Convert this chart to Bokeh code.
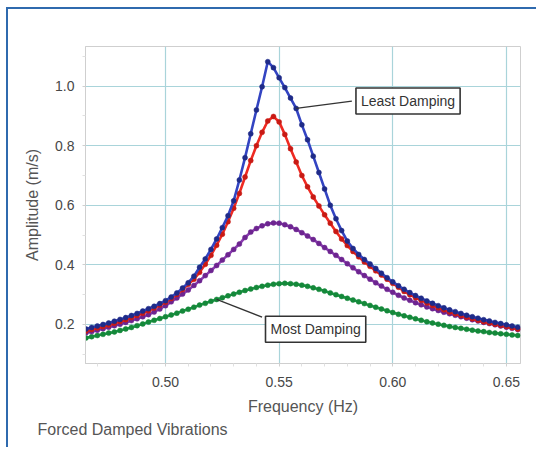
from bokeh.plotting import figure
from bokeh.models import Range1d, FixedTicker, NumeralTickFormatter, Label, Title
from bokeh.embed import file_html
from bokeh.resources import INLINE

# Frequency grid (Hz)
freq = [0.465, 0.4675, 0.470, 0.4725, 0.475, 0.4775, 0.480, 0.4825, 0.485, 0.4875,
        0.490, 0.4925, 0.495, 0.4975, 0.500, 0.5025, 0.505, 0.5075, 0.510, 0.5125,
        0.515, 0.5175, 0.520, 0.5225, 0.525, 0.5275, 0.530, 0.5325, 0.535, 0.5375,
        0.540, 0.5425, 0.545, 0.5475, 0.550, 0.5525, 0.555, 0.5575, 0.560, 0.5625,
        0.565, 0.5675, 0.570, 0.5725, 0.575, 0.5775, 0.580, 0.5825, 0.585, 0.5875,
        0.590, 0.5925, 0.595, 0.5975, 0.600, 0.6025, 0.605, 0.6075, 0.610, 0.6125,
        0.615, 0.6175, 0.620, 0.6225, 0.625, 0.6275, 0.630, 0.6325, 0.635, 0.6375,
        0.640, 0.6425, 0.645, 0.6475, 0.650, 0.6525, 0.655]

# Amplitudes (m/s), least damping -> most damping
least_damping = [0.185, 0.190, 0.195, 0.200, 0.205, 0.211, 0.217, 0.223, 0.230, 0.237,
                 0.245, 0.253, 0.261, 0.270, 0.280, 0.292, 0.306, 0.322, 0.340, 0.362,
                 0.392, 0.420, 0.452, 0.487, 0.525, 0.565, 0.615, 0.685, 0.760, 0.840,
                 0.920, 0.998, 1.082, 1.062, 1.028, 0.995, 0.960, 0.925, 0.870, 0.820,
                 0.765, 0.710, 0.655, 0.600, 0.555, 0.515, 0.480, 0.455, 0.435, 0.418,
                 0.403, 0.388, 0.372, 0.357, 0.343, 0.330, 0.318, 0.307, 0.297, 0.288,
                 0.279, 0.271, 0.263, 0.256, 0.249, 0.243, 0.237, 0.231, 0.226, 0.221,
                 0.216, 0.212, 0.207, 0.203, 0.199, 0.195, 0.191]

light_damping = [0.178, 0.183, 0.188, 0.193, 0.198, 0.204, 0.210, 0.216, 0.223, 0.230,
                 0.238, 0.246, 0.255, 0.265, 0.275, 0.287, 0.301, 0.317, 0.335, 0.352,
                 0.375, 0.402, 0.432, 0.466, 0.503, 0.545, 0.590, 0.640, 0.695, 0.750,
                 0.800, 0.845, 0.883, 0.898, 0.880, 0.838, 0.790, 0.745, 0.700, 0.662,
                 0.628, 0.598, 0.568, 0.540, 0.512, 0.487, 0.465, 0.445, 0.427, 0.410,
                 0.395, 0.380, 0.366, 0.352, 0.338, 0.325, 0.311, 0.300, 0.290, 0.281,
                 0.272, 0.264, 0.256, 0.249, 0.242, 0.236, 0.230, 0.224, 0.219, 0.214,
                 0.209, 0.205, 0.201, 0.197, 0.193, 0.189, 0.185]

medium_damping = [0.172, 0.176, 0.181, 0.186, 0.191, 0.196, 0.201, 0.207, 0.213, 0.219,
                  0.226, 0.233, 0.242, 0.252, 0.263, 0.276, 0.289, 0.302, 0.316, 0.331,
                  0.347, 0.364, 0.381, 0.398, 0.416, 0.434, 0.452, 0.470, 0.492, 0.510,
                  0.522, 0.531, 0.538, 0.541, 0.540, 0.535, 0.528, 0.519, 0.508, 0.497,
                  0.485, 0.472, 0.458, 0.445, 0.432, 0.418, 0.404, 0.390, 0.377, 0.364,
                  0.352, 0.340, 0.329, 0.318, 0.308, 0.298, 0.289, 0.281, 0.273, 0.266,
                  0.259, 0.253, 0.247, 0.241, 0.236, 0.231, 0.226, 0.221, 0.216, 0.212,
                  0.207, 0.203, 0.199, 0.195, 0.191, 0.187, 0.183]

most_damping = [0.155, 0.159, 0.163, 0.167, 0.171, 0.175, 0.180, 0.185, 0.190, 0.196,
                0.202, 0.208, 0.214, 0.220, 0.226, 0.232, 0.238, 0.245, 0.251, 0.258,
                0.265, 0.271, 0.278, 0.284, 0.290, 0.296, 0.302, 0.308, 0.314, 0.319,
                0.324, 0.328, 0.332, 0.335, 0.337, 0.338, 0.337, 0.335, 0.332, 0.328,
                0.323, 0.318, 0.312, 0.306, 0.300, 0.294, 0.288, 0.282, 0.276, 0.270,
                0.264, 0.258, 0.252, 0.246, 0.240, 0.234, 0.229, 0.224, 0.219, 0.214,
                0.209, 0.205, 0.201, 0.197, 0.193, 0.190, 0.187, 0.184, 0.181, 0.178,
                0.176, 0.173, 0.171, 0.169, 0.167, 0.165, 0.163]

x_ticks = [0.50, 0.55, 0.60, 0.65]
y_ticks = [0.2, 0.4, 0.6, 0.8, 1.0]

FONT = "Liberation Sans"

p = figure(width=530, height=440, output_backend="svg", toolbar_location=None,
           x_range=Range1d(0.4648, 0.6562), y_range=Range1d(0.069, 1.133),
           min_border_left=77, min_border_right=18, min_border_top=37,
           min_border_bottom=86)
p.styles = {"margin-left": "6px", "margin-top": "7px",
            "border-top": "2px solid #2f6aae", "border-left": "2px solid #2f6aae"}

p.background_fill_color = "white"
p.border_fill_color = "white"
p.outline_line_color = "#cfcfcf"
p.outline_line_width = 1

for ax in (p.xaxis[0], p.yaxis[0]):
    ax.axis_line_color = "#cfcfcf"
    ax.major_tick_line_color = "#d0d0d0"
    ax.minor_tick_line_color = "#e0e0e0"
    ax.major_tick_out = 3
    ax.major_tick_in = 0
    ax.minor_tick_out = 3
    ax.minor_tick_in = 0
    ax.major_label_text_font = FONT
    ax.major_label_text_font_size = "14px"
    ax.major_label_text_color = "#474747"
    ax.axis_label_text_font = FONT
    ax.axis_label_text_font_size = "16px"
    ax.axis_label_text_font_style = "normal"
    ax.axis_label_text_color = "#555555"

p.xaxis.ticker = FixedTicker(ticks=x_ticks,
                             minor_ticks=[0.47, 0.48, 0.49, 0.51, 0.52, 0.53, 0.54, 0.56,
                                          0.57, 0.58, 0.59, 0.61, 0.62, 0.63, 0.64])
p.yaxis.ticker = FixedTicker(ticks=y_ticks, minor_ticks=[0.1, 0.3, 0.5, 0.7, 0.9, 1.1])
p.xaxis.formatter = NumeralTickFormatter(format="0.00")
p.yaxis.formatter = NumeralTickFormatter(format="0.0")
p.xaxis.axis_label = "Frequency (Hz)"
p.yaxis.axis_label = "Amplitude (m/s)"
p.xaxis.major_label_standoff = 10
p.yaxis.major_label_standoff = 8
p.xaxis.axis_label_standoff = 8
p.yaxis.axis_label_standoff = 11

p.xgrid.ticker = FixedTicker(ticks=x_ticks)
p.ygrid.ticker = FixedTicker(ticks=y_ticks)
p.grid.grid_line_color = "#a9d4da"
p.grid.grid_line_width = 1.2

series = [
    (most_damping, "#1e9e48", "#15883a"),
    (medium_damping, "#8a3cb0", "#6d2590"),
    (light_damping, "#ee2a22", "#c81a14"),
    (least_damping, "#3344c2", "#1f2b88"),
]
for vals, lc, dc in series:
    p.line(freq, vals, line_color=lc, line_width=2.6)
    p.scatter(freq, vals, size=5, fill_color=dc, line_color=dc, line_width=0.5)

# Leader lines for the call-out boxes
i_least = freq.index(0.5575)
i_most = freq.index(0.5225)
p.line([freq[i_least], 0.5820], [least_damping[i_least], 0.950],
       line_color="#333333", line_width=1.3)
p.line([freq[i_most], 0.5425], [most_damping[i_most], 0.2245],
       line_color="#333333", line_width=1.3)

box_style = dict(text_font=FONT, text_font_size="14px", text_color="#333333",
                 text_align="left", text_baseline="middle",
                 background_fill_color="white", background_fill_alpha=1.0,
                 border_line_color="#333333", border_line_width=1.6, padding=5)
p.add_layout(Label(x=0.5838, y=0.950, text="Least Damping", **box_style))
p.add_layout(Label(x=0.5440, y=0.184, text="Most Damping", **box_style))

caption = Title(text="Forced Damped Vibrations", align="left", offset=-48,
                text_font=FONT, text_font_size="16px", text_color="#555555",
                text_font_style="normal", standoff=2)
p.add_layout(caption, "below")

open("out.html", "w").write(file_html(p, INLINE))
